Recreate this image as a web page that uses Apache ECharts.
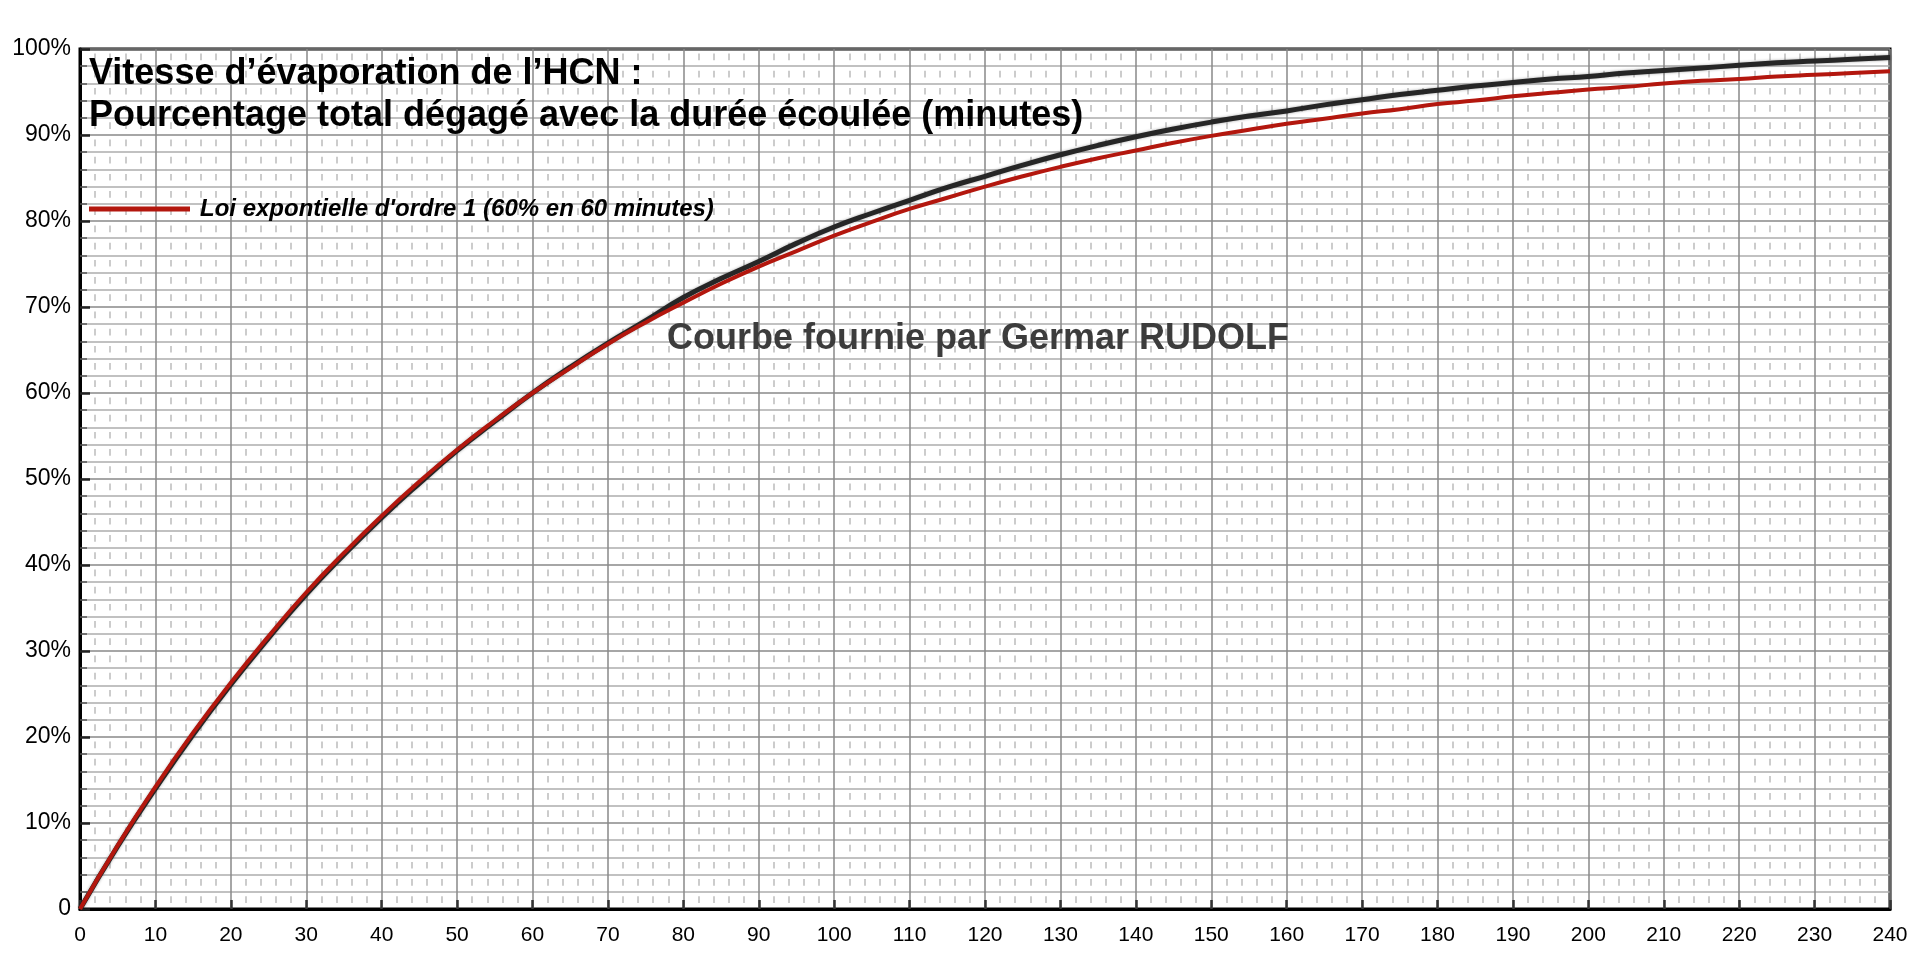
<!DOCTYPE html>
<html>
<head>
<meta charset="utf-8">
<script src="https://cdn.jsdelivr.net/npm/echarts@6/dist/echarts.min.js"></script>
<style>
  html, body { margin: 0; padding: 0; background: #fff; }
  #chart { width: 1920px; height: 959px; }
</style>
</head>
<body>
<div id="chart"></div>
<script>
// minutes
var minutes = [0, 5, 10, 15, 20, 25, 30, 35, 40, 45, 50, 55, 60, 65, 70, 75, 80, 85, 90, 95, 100, 105, 110, 115, 120,
    125, 130, 135, 140, 145, 150, 155, 160, 165, 170, 175, 180, 185, 190, 195, 200, 205, 210, 215, 220, 225, 230, 235, 240];
// courbe scannée (Rudolf), % dégagé
var rudolf = [0, 7.3, 14.0, 20.3, 26.1, 31.5, 36.6, 41.2, 45.5, 49.5, 53.3, 56.7, 60.0, 63.0, 65.8, 68.4, 71.1, 73.3, 75.3, 77.4, 79.3, 80.9, 82.4, 83.9, 85.2,
    86.5, 87.7, 88.8, 89.8, 90.7, 91.5, 92.2, 92.8, 93.5, 94.1, 94.7, 95.2, 95.7, 96.1, 96.5, 96.8, 97.2, 97.5, 97.8, 98.1, 98.4, 98.6, 98.8, 99.0];
// loi exponentielle d'ordre 1, % dégagé
var expo = [0, 7.4, 14.2, 20.5, 26.3, 31.7, 36.8, 41.4, 45.7, 49.7, 53.4, 56.8, 60.0, 62.9, 65.7, 68.2, 70.5, 72.7, 74.7, 76.5, 78.3, 79.9, 81.4, 82.7, 84.0,
    85.2, 86.3, 87.3, 88.2, 89.1, 89.9, 90.6, 91.3, 91.9, 92.5, 93.0, 93.6, 94.0, 94.5, 94.9, 95.3, 95.6, 96.0, 96.3, 96.5, 96.8, 97.0, 97.2, 97.4];

var titleLines = ['Vitesse d\u2019évaporation de l\u2019HCN :', 'Pourcentage total dégagé avec la durée écoulée (minutes)'];
var expoName = "Loi expontielle d'ordre 1 (60% en 60 minutes)";
var noteText = 'Courbe fournie par Germar RUDOLF';

function pairs(xs, ys) {
    var out = [];
    for (var i = 0; i < xs.length; i++) {
        out.push([xs[i], ys[i]]);
    }
    return out;
}

var font = '"Liberation Sans", Arial, sans-serif';
var myChart = echarts.init(document.getElementById('chart'));

var option = {
    backgroundColor: '#fff',
    animation: false,
    title: {
        text: titleLines.join('\n'),
        left: 89,
        top: 53,
        padding: 0,
        textStyle: {
            fontFamily: font,
            fontSize: 36,
            fontWeight: 'bold',
            color: '#000',
            lineHeight: 42
        }
    },
    legend: {
        data: [expoName],
        left: 89,
        top: 197,
        padding: 0,
        icon: 'rect',
        itemWidth: 101,
        itemHeight: 5,
        textStyle: {
            fontFamily: font,
            fontSize: 24,
            fontWeight: 'bold',
            fontStyle: 'italic',
            color: '#000',
            padding: [0, 0, 0, 5]
        }
    },
    graphic: [{
        type: 'text',
        left: 667,
        top: 321,
        z: 10,
        style: {
            text: noteText,
            fontFamily: font,
            fontSize: 36,
            fontWeight: 'bold',
            fill: '#3c3c3c'
        }
    }],
    grid: {
        left: 80,
        right: 30,
        top: 49,
        bottom: 50,
        show: true,
        borderColor: '#000',
        borderWidth: 3
    },
    xAxis: {
        type: 'value',
        min: 0,
        max: 240,
        interval: 10,
        axisLine: { lineStyle: { color: '#000', width: 3 } },
        axisTick: { inside: true, length: 9, lineStyle: { color: '#333', width: 2.5 } },
        axisLabel: { fontFamily: font, fontSize: 21, color: '#000', margin: 16 },
        splitLine: { show: true, lineStyle: { color: '#888', width: 1.5 } },
        minorTick: { show: false, splitNumber: 5 },
        minorSplitLine: {
            show: true,
            lineStyle: { color: '#bcbcbc', width: 1.5, type: [6.7, 10.5], dashOffset: 12.7 }
        }
    },
    yAxis: {
        type: 'value',
        min: 0,
        max: 100,
        interval: 10,
        axisLine: { show: true, lineStyle: { color: '#000', width: 3 } },
        axisTick: { show: true, inside: true, length: 10, lineStyle: { color: '#222', width: 2.5 } },
        minorTick: { show: true, splitNumber: 5, length: 7, lineStyle: { color: '#555', width: 1.5 } },
        axisLabel: {
            fontFamily: font,
            fontSize: 23,
            color: '#000',
            margin: 9,
            formatter: function (v) { return v === 0 ? '0' : v + '%'; }
        },
        splitLine: { show: true, lineStyle: { color: '#888', width: 1.5 } },
        minorSplitLine: { show: true, lineStyle: { color: '#adadad', width: 1.5 } }
    },
    series: [{
        name: 'Courbe Rudolf',
        type: 'line',
        smooth: true,
        symbol: 'none',
        z: 2,
        lineStyle: {
            color: '#262626',
            width: 5,
            shadowColor: 'rgba(0,0,0,0.35)',
            shadowBlur: 3
        },
        data: pairs(minutes, rudolf)
    }, {
        name: expoName,
        type: 'line',
        smooth: true,
        symbol: 'none',
        z: 3,
        itemStyle: { color: '#b3170e' },
        lineStyle: { color: '#b3170e', width: 4 },
        data: pairs(minutes, expo)
    }]
};
myChart.setOption(option);

window.onresize = function () {
    myChart.resize();
};
</script>
</body>
</html>
